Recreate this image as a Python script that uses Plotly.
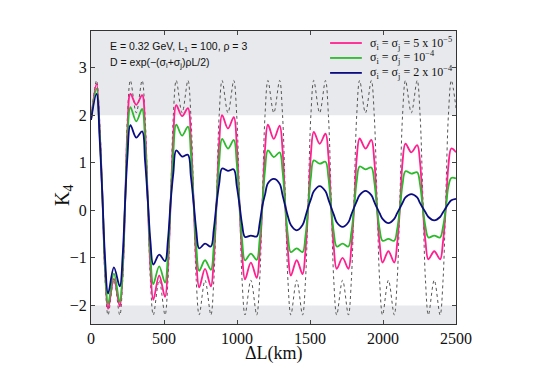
import plotly.graph_objects as go

# distance grid (km) - key points
L_km = [0, 38, 60, 78,
        97, 117, 157, 197, 217, 235,
        250, 270, 310, 350, 370, 389,
        407, 427, 467, 507, 527, 546,
        564, 584, 624, 664, 684, 703,
        721, 741, 781, 821, 841, 860,
        878, 898, 938, 978, 998, 1017,
        1035, 1055, 1095, 1135, 1155, 1174,
        1192, 1212, 1252, 1292, 1312, 1331,
        1349, 1369, 1409, 1449, 1469, 1488,
        1506, 1526, 1566, 1606, 1626, 1645,
        1663, 1683, 1723, 1763, 1783, 1802,
        1820, 1840, 1880, 1920, 1940, 1959,
        1977, 1997, 2037, 2077, 2097, 2116,
        2134, 2154, 2194, 2234, 2254, 2273,
        2291, 2311, 2351, 2391, 2411, 2430,
        2448, 2468, 2500]

# undamped K4 (dotted)
k4_nodamp = [1.9, 2.73, 1.85, 0.27,
             -1.48, -2.2, -1.47, -2.2, -1.48, 0.27,
             2.0, 2.73, 2.05, 2.73, 2.0, 0.27,
             -1.48, -2.2, -1.47, -2.2, -1.48, 0.27,
             2.0, 2.73, 2.05, 2.73, 2.0, 0.27,
             -1.48, -2.2, -1.47, -2.2, -1.48, 0.27,
             2.0, 2.73, 2.05, 2.73, 2.0, 0.27,
             -1.48, -2.2, -1.47, -2.2, -1.48, 0.27,
             2.0, 2.73, 2.05, 2.73, 2.0, 0.27,
             -1.48, -2.2, -1.47, -2.2, -1.48, 0.27,
             2.0, 2.73, 2.05, 2.73, 2.0, 0.27,
             -1.48, -2.2, -1.47, -2.2, -1.48, 0.27,
             2.0, 2.73, 2.05, 2.73, 2.0, 0.27,
             -1.48, -2.2, -1.47, -2.2, -1.48, 0.27,
             2.0, 2.73, 2.05, 2.73, 2.0, 0.27,
             -1.48, -2.2, -1.47, -2.2, -1.48, 0.27,
             2.0, 2.73, 2.15]

# sigma_i = sigma_j = 5e-5
k4_s5e5 = [1.9, 2.66, 1.65, 0.3,
           -1.3, -2.07, -1.44, -2.02, -1.3, 0.28,
           1.74, 2.45, 2.22, 2.42, 1.72, 0.22,
           -1.2, -1.88, -1.37, -1.82, -1.18, 0.2,
           1.56, 2.21, 1.98, 2.15, 1.52, 0.16,
           -1.05, -1.62, -1.23, -1.6, -1.03, 0.14,
           1.42, 2.0, 1.72, 1.96, 1.4, 0.12,
           -0.92, -1.45, -1.1, -1.42, -0.9, 0.1,
           1.29, 1.8, 1.5, 1.78, 1.27, 0.08,
           -0.86, -1.37, -1.05, -1.34, -0.84, 0.07,
           1.18, 1.65, 1.4, 1.61, 1.15, 0.06,
           -0.78, -1.23, -1.0, -1.23, -0.78, 0.05,
           1.1, 1.51, 1.3, 1.48, 1.06, 0.05,
           -0.7, -1.1, -0.86, -1.1, -0.7, 0.05,
           1.02, 1.4, 1.22, 1.37, 1.0, 0.04,
           -0.66, -1.03, -0.86, -1.03, -0.66, 0.04,
           0.94, 1.3, 1.22]

# sigma_i = sigma_j = 1e-4
k4_s1e4 = [1.9, 2.56, 1.58, 0.3,
           -1.25, -1.97, -1.33, -1.93, -1.22, 0.28,
           1.5, 2.17, 1.87, 2.13, 1.47, 0.22,
           -0.95, -1.55, -1.18, -1.52, -0.93, 0.2,
           1.22, 1.8, 1.57, 1.76, 1.2, 0.16,
           -0.76, -1.27, -1.05, -1.25, -0.75, 0.14,
           1.02, 1.5, 1.3, 1.48, 1.0, 0.12,
           -0.63, -1.05, -0.91, -1.04, -0.62, 0.1,
           0.85, 1.26, 1.12, 1.22, 0.83, 0.08,
           -0.54, -0.88, -0.8, -0.88, -0.54, 0.07,
           0.7, 1.05, 0.98, 1.02, 0.69, 0.06,
           -0.47, -0.76, -0.7, -0.76, -0.47, 0.05,
           0.62, 0.92, 0.86, 0.9, 0.61, 0.05,
           -0.4, -0.64, -0.6, -0.64, -0.4, 0.05,
           0.55, 0.82, 0.77, 0.8, 0.54, 0.04,
           -0.35, -0.57, -0.53, -0.57, -0.35, 0.04,
           0.5, 0.68, 0.67]

# sigma_i = sigma_j = 2e-4
k4_s2e4 = [1.9, 2.45, 1.47, 0.3,
           -1.05, -1.75, -1.2, -1.6, -0.95, 0.28,
           1.15, 1.79, 1.53, 1.66, 1.05, 0.22,
           -0.65, -1.14, -0.93, -1.07, -0.62, 0.2,
           0.78, 1.26, 1.13, 1.17, 0.72, 0.16,
           -0.42, -0.8, -0.7, -0.76, -0.4, 0.14,
           0.56, 0.88, 0.83, 0.86, 0.52, 0.12,
           -0.3, -0.56, -0.53, -0.55, -0.28, 0.1,
           0.33, 0.57, 0.66, 0.56, 0.32, 0.08,
           -0.13, -0.31, -0.42, -0.31, -0.13, 0.07,
           0.23, 0.4, 0.51, 0.4, 0.23, 0.06,
           -0.09, -0.25, -0.35, -0.25, -0.09, 0.06,
           0.19, 0.32, 0.41, 0.32, 0.18, 0.05,
           -0.06, -0.18, -0.27, -0.18, -0.06, 0.05,
           0.16, 0.27, 0.34, 0.27, 0.15, 0.05,
           -0.04, -0.14, -0.21, -0.14, -0.04, 0.05,
           0.14, 0.21, 0.24]

legend_labels = ["σ<sub>i</sub> = σ<sub>j</sub> = 5 x 10<sup>−5</sup>",
                 "σ<sub>i</sub> = σ<sub>j</sub> = 10<sup>−4</sup>",
                 "σ<sub>i</sub> = σ<sub>j</sub> = 2 x 10<sup>−4</sup>"]
colors = ["#ff1f8e", "#2cba2c", "#0c0c82"]
curves = [k4_s5e5, k4_s1e4, k4_s2e4]

y_lo, y_hi = -2.39, 3.77
serif = "Liberation Serif, Times New Roman, serif"
sans = "Liberation Sans, Arial, sans-serif"

fig = go.Figure()

fig.add_trace(go.Scatter(
    x=L_km, y=k4_nodamp, mode="lines",
    line=dict(color="#555555", width=1, dash="dot", shape="spline", smoothing=1),
    showlegend=False, hoverinfo="skip",
))

for name, vals, col in zip(legend_labels, curves, colors):
    fig.add_trace(go.Scatter(
        x=L_km, y=vals, mode="lines", name=name, showlegend=False,
        line=dict(color=col, width=1.8, shape="spline", smoothing=1),
    ))

# shaded bands |K4| > 2
for y0, y1 in [(2, y_hi), (y_lo, -2)]:
    fig.add_shape(type="rect", xref="paper", yref="y", x0=0, x1=1, y0=y0, y1=y1,
                  fillcolor="#e7e9ec", line_width=0, layer="below")

# legend drawn by hand so the rows sit tight like the original
for i, (name, col) in enumerate(zip(legend_labels, colors)):
    yy = 0.959 - i * 0.051
    fig.add_shape(type="line", xref="paper", yref="paper",
                  x0=0.655, x1=0.742, y0=yy, y1=yy,
                  line=dict(color=col, width=1.8))
    fig.add_annotation(x=0.759, y=yy, xref="paper", yref="paper", text=name,
                       showarrow=False, xanchor="left", yanchor="middle",
                       font=dict(family=serif, size=12, color="#111"))

fig.add_annotation(x=0.047, y=0.945, xref="paper", yref="paper",
                   text="E = 0.32 GeV, L<sub>1</sub> = 100, ρ = 3",
                   showarrow=False, xanchor="left", yanchor="middle",
                   font=dict(family=sans, size=10.5, color="#111"))
fig.add_annotation(x=0.047, y=0.891, xref="paper", yref="paper",
                   text="D = exp(−(σ<sub>i</sub>+σ<sub>j</sub>)ρL/2)",
                   showarrow=False, xanchor="left", yanchor="middle",
                   font=dict(family=sans, size=10.5, color="#111"))

# axis titles
fig.add_annotation(x=-0.077, y=0.44, xref="paper", yref="paper",
                   text="K<sub>4</sub>", textangle=-90, showarrow=False,
                   xanchor="center", yanchor="middle",
                   font=dict(family=serif, size=20, color="#111"))
fig.add_annotation(x=0.5, y=-0.099, xref="paper", yref="paper",
                   text="ΔL(km)", showarrow=False, xanchor="center", yanchor="middle",
                   font=dict(family=serif, size=18, color="#111"))

fig.update_layout(
    width=548, height=384,
    margin=dict(l=91, r=92, t=31, b=60),
    paper_bgcolor="white", plot_bgcolor="white",
    font=dict(family=serif, size=16, color="#111"),
    showlegend=False,
    xaxis=dict(range=[0, 2500], tickvals=[0, 500, 1000, 1500, 2000, 2500],
               showgrid=False, zeroline=False, showline=True, linecolor="#333",
               linewidth=1.2, mirror="ticks", ticks="inside", ticklen=4,
               tickcolor="#444"),
    yaxis=dict(range=[y_lo, y_hi], tickvals=[-2, -1, 0, 1, 2, 3],
               showgrid=False, zeroline=False, showline=True, linecolor="#333",
               linewidth=1.2, mirror="ticks", ticks="inside", ticklen=4,
               tickcolor="#444"),
)

# page body has a default 8px margin; drop it so the figure sits at the origin
fig.write_html("out.html", config={"displayModeBar": False},
               post_script="document.body.style.margin='0px';")
